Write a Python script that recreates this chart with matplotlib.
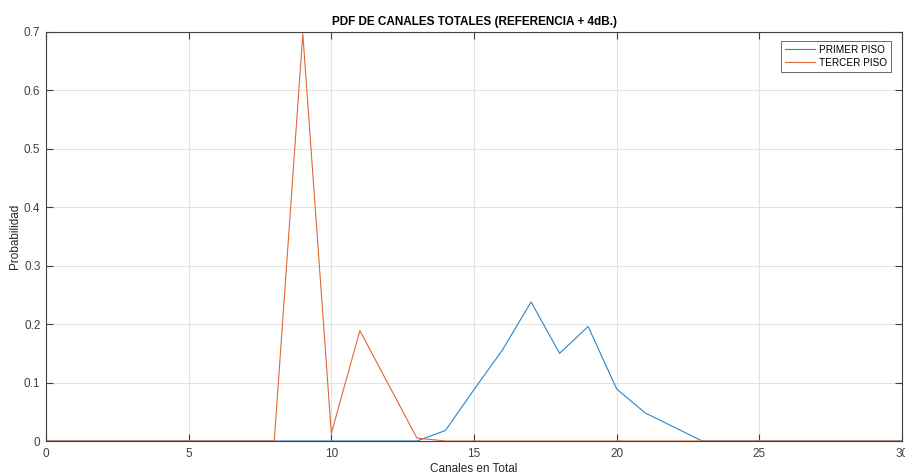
import matplotlib
matplotlib.use("Agg")
import matplotlib.pyplot as plt
import numpy as np

x = list(range(0, 31))
primer_piso = [0, 0, 0, 0, 0, 0, 0, 0, 0, 0, 0, 0, 0, 0, 0.018, 0.088, 0.156, 0.238, 0.150, 0.196,
               0.089, 0.048, 0.024, 0, 0, 0, 0, 0, 0, 0, 0]
tercer_piso = [0, 0, 0, 0, 0, 0, 0, 0, 0, 0.697, 0.013, 0.189, 0.097, 0.005, 0, 0, 0, 0, 0, 0,
               0, 0, 0, 0, 0, 0, 0, 0, 0, 0, 0]
xticks = [0, 5, 10, 15, 20, 25, 30]
yticks = [0, 0.1, 0.2, 0.3, 0.4, 0.5, 0.6, 0.7]

plt.rcParams['font.family'] = ['Liberation Sans', 'DejaVu Sans']

fig = plt.figure(figsize=(9.05, 4.74), dpi=100)
ax = fig.add_axes([46/905, 33/474, (902-46)/905, (441-32)/474])

ax.plot(x, primer_piso, color='#2a86c8', lw=0.8, label='PRIMER PISO')
ax.plot(x, tercer_piso, color='#e0683a', lw=0.8, label='TERCER PISO')

ax.set_xlim(0, 30)
ax.set_ylim(0, 0.7)
ax.set_xticks(xticks)
ax.set_yticks(yticks)
ax.set_xticklabels([str(t) for t in xticks])
ax.set_yticklabels(['0', '0.1', '0.2', '0.3', '0.4', '0.5', '0.6', '0.7'])
ax.grid(True, color='#e3e3e3', lw=0.8)
ax.set_axisbelow(True)
ax.tick_params(direction='in', length=5, width=0.8, colors='#404040', labelsize=8.5,
               top=True, right=True, labelcolor='#404040')
ax.tick_params(axis='x', pad=5)
ax.tick_params(axis='y', pad=4)
for s in ax.spines.values():
    s.set_color('#404040')
    s.set_linewidth(0.8)

ax.set_title('PDF DE CANALES TOTALES (REFERENCIA + 4dB.)', fontsize=8.5, fontweight='bold', pad=5)
ax.set_xlabel('Canales en Total', fontsize=8.5, color='#262626')
ax.set_ylabel('Probabilidad', fontsize=8.5, color='#262626')
ax.xaxis.set_label_coords(0.5, -0.053)
ax.yaxis.set_label_coords(-0.029, 0.5)

leg = ax.legend(loc='upper right', fontsize=7.2, frameon=True, fancybox=False,
                edgecolor='#262626', handlelength=3.0, borderpad=0.4, labelspacing=0.3,
                handletextpad=0.4, borderaxespad=0, bbox_to_anchor=(0.987, 0.978))
leg.get_frame().set_linewidth(0.6)

fig.savefig('out.png', dpi=100)
